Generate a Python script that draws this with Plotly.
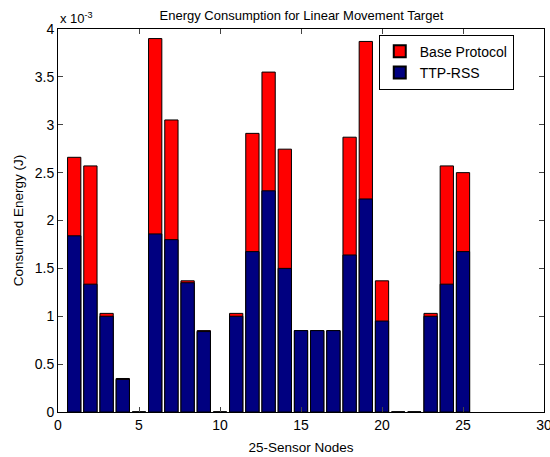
import plotly.graph_objects as go

nodes = list(range(1, 26))
base_protocol = [2.66, 2.57, 1.03, 0.35, 0.0, 3.90, 3.05, 1.37, 0.85, 0.0,
                 1.03, 2.91, 3.55, 2.745, 0.85, 0.85, 0.85, 2.87, 3.87, 1.37,
                 0.0, 0.0, 1.03, 2.57, 2.50]
ttp_rss = [1.84, 1.335, 1.0, 0.34, 0.0, 1.86, 1.80, 1.35, 0.84, 0.0,
           1.0, 1.675, 2.31, 1.50, 0.85, 0.85, 0.85, 1.64, 2.225, 0.95,
           0.0, 0.0, 1.0, 1.335, 1.675]
x_ticks = [0, 5, 10, 15, 20, 25, 30]
y_ticks = [0, 0.5, 1, 1.5, 2, 2.5, 3, 3.5, 4]
y_tick_labels = ["0", "0.5", "1", "1.5", "2", "2.5", "3", "3.5", "4"]

fig = go.Figure()
fig.add_trace(go.Bar(x=nodes, y=base_protocol, name="Base Protocol", width=0.82,
                     marker=dict(color="#ff0000", line=dict(color="black", width=1))))
fig.add_trace(go.Bar(x=nodes, y=ttp_rss, name="TTP-RSS", width=0.82,
                     marker=dict(color="#000080", line=dict(color="black", width=1))))

font = "Liberation Sans, Arial, sans-serif"
fig.update_layout(
    width=550, height=457,
    barmode="overlay",
    paper_bgcolor="white", plot_bgcolor="white",
    margin=dict(l=58, r=6, t=29, b=45),
    font=dict(family=font, size=14, color="black"),
    title=dict(text="Energy Consumption for Linear Movement Target", x=0.548, xanchor="center",
               y=0.967, yanchor="middle", font=dict(size=13)),
    showlegend=True,
    legend=dict(x=0.66, y=0.985, xanchor="left", yanchor="top", bgcolor="white",
                bordercolor="black", borderwidth=1, font=dict(size=14),
                itemsizing="constant", tracegroupgap=0,
                entrywidth=150, entrywidthmode="pixels"),
    xaxis=dict(range=[0, 30], tickvals=x_ticks, ticks="inside", ticklen=5, showline=True,
               linecolor="black", linewidth=1, mirror="ticks", showgrid=False, zeroline=False,
               automargin=False, ticklabeloverflow="allow",
               title=dict(text="25-Sensor Nodes", standoff=10, font=dict(size=13.5))),
    yaxis=dict(range=[0, 4], tickvals=y_ticks, ticktext=y_tick_labels, ticks="inside", ticklen=5,
               showline=True, linecolor="black", linewidth=1, mirror="ticks", showgrid=False,
               zeroline=False, automargin=False,
               title=dict(text="Consumed Energy (J)", standoff=8, font=dict(size=13.5))),
    annotations=[dict(text="x 10<sup>-3</sup>", xref="paper", yref="paper", x=0.0, y=1.0,
                      xanchor="left", yanchor="bottom", showarrow=False, font=dict(size=13),
                      yshift=1)],
)
fig.write_html("out.html", config={"displayModeBar": False},
               post_script="document.body.style.margin='0';document.body.style.padding='0';")
